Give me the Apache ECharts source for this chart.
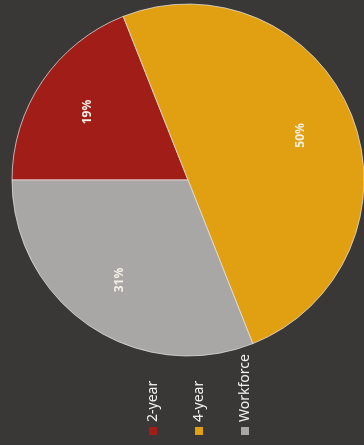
<!DOCTYPE html>
<html>
<head>
<meta charset="utf-8">
<script src="https://cdn.jsdelivr.net/npm/echarts@6/dist/echarts.min.js"></script>
<style>
  html, body {
    margin: 0;
    padding: 0;
    width: 364px;
    height: 445px;
    overflow: hidden;
    background: #393836;
  }
  /* the photo shows the chart turned on its side, so draw it upright and turn the box */
  #pieChart {
    position: absolute;
    left: 0;
    top: 445px;
    width: 445px;
    height: 364px;
    transform-origin: 0 0;
    transform: rotate(-90deg);
  }
</style>
</head>
<body>
<div id="pieChart"></div>
<script>
// data
const categories = ["2-year", "4-year", "Workforce"];
const shares = [19, 50, 31];
const sliceColors = ["#a01d18", "#e0a012", "#a9a7a6"];

const pieData = categories.map((name, i) => ({
  name: name,
  value: shares[i],
  itemStyle: { color: sliceColors[i] }
}));

const chart = echarts.init(document.getElementById("pieChart"));

chart.setOption({
  backgroundColor: "#393836",
  animation: false,
  legend: {
    orient: "vertical",
    left: 5,
    top: 141,
    itemWidth: 8,
    itemHeight: 8,
    itemGap: 32,
    icon: "rect",
    itemStyle: { borderWidth: 0 },
    data: categories,
    textStyle: {
      color: "#f2f2f2",
      fontSize: 14,
      fontFamily: "Noto Sans"
    }
  },
  series: [
    {
      type: "pie",
      center: [265, 188],
      radius: [0, 176],
      startAngle: 90,
      clockwise: true,
      label: { show: false },
      labelLine: { show: false },
      itemStyle: {
        borderColor: "rgba(235,235,235,0.7)",
        borderWidth: 1
      },
      data: pieData
    },
    {
      // same slices again, see-through, only to hold the labels a bit further out
      type: "pie",
      silent: true,
      center: [265, 188],
      radius: [0, 236],
      startAngle: 90,
      clockwise: true,
      itemStyle: { color: "rgba(0,0,0,0)" },
      label: {
        show: true,
        position: "inside",
        formatter: "{c}%",
        color: "#f4f0e8",
        fontSize: 12,
        fontWeight: "bold",
        fontFamily: "Noto Sans"
      },
      labelLine: { show: false },
      data: categories.map((name, i) => ({ name: name, value: shares[i] }))
    }
  ]
});
</script>
</body>
</html>
